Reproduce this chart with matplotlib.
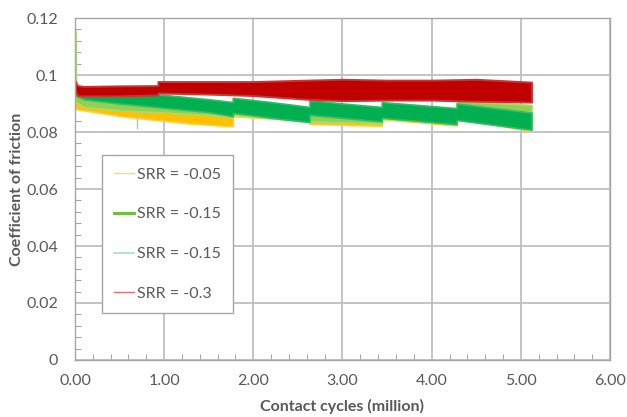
import matplotlib
matplotlib.use('Agg')
import numpy as np
import matplotlib.pyplot as plt
from matplotlib.lines import Line2D
from matplotlib.ticker import MultipleLocator, FormatStrFormatter

# --- data: envelope (low / high) of each noisy trace ---
# SRR = -0.05 (yellow)
x_a = [0.0, 0.02, 0.53, 1.28, 1.77, 1.77, 2.63, 2.63, 3.44, 3.44, 4.28, 4.28, 5.12]
lo_a = [0.0890, 0.0880, 0.0855, 0.0830, 0.0820, 0.0855, 0.0840, 0.0828, 0.0822, 0.0845, 0.0823, 0.0850, 0.0803]
hi_a = [0.0930, 0.0920, 0.0895, 0.0875, 0.0865, 0.0900, 0.0875, 0.0875, 0.0855, 0.0890, 0.0865, 0.0885, 0.0850]

# SRR = -0.15 (light green, with the start-up spike)
x_b = [0.0, 0.004, 0.012, 0.1, 0.5, 1.0, 1.77, 1.77, 2.63, 2.63, 3.44, 3.44, 4.28, 4.28, 5.12]
lo_b = [0.0905, 0.0905, 0.0905, 0.0888, 0.0876, 0.0868, 0.0855, 0.0862, 0.0835, 0.0838, 0.0830, 0.0848, 0.0830, 0.0865, 0.0838]
hi_b = [0.1160, 0.1100, 0.0950, 0.0930, 0.0920, 0.0905, 0.0890, 0.0915, 0.0885, 0.0895, 0.0875, 0.0895, 0.0870, 0.0910, 0.0895]

# SRR = -0.15 (dark green)
x_c = [0.0, 0.1, 0.5, 1.0, 1.5, 1.77, 1.77, 2.2, 2.63, 2.63, 3.0, 3.44, 3.44, 4.28, 4.28, 5.12]
lo_c = [0.0930, 0.0915, 0.0900, 0.0885, 0.0870, 0.0855, 0.0867, 0.0850, 0.0835, 0.0860, 0.0850, 0.0837, 0.0850, 0.0827, 0.0842, 0.0808]
hi_c = [0.0965, 0.0950, 0.0940, 0.0930, 0.0915, 0.0905, 0.0920, 0.0905, 0.0888, 0.0912, 0.0900, 0.0888, 0.0905, 0.0884, 0.0900, 0.0868]
spike_x = [0.70, 0.70]
spike_y = [0.0875, 0.0814]

# SRR = -0.3 (red)
x_d = [0.0, 0.03, 0.1, 0.5, 0.93, 0.93, 1.5, 2.0, 2.6, 3.0, 3.5, 4.0, 4.5, 5.12]
lo_d = [0.0945, 0.0927, 0.0927, 0.0927, 0.0930, 0.0937, 0.0933, 0.0928, 0.0915, 0.0910, 0.0912, 0.0912, 0.0908, 0.0905]
hi_d = [0.0980, 0.0963, 0.0960, 0.0962, 0.0963, 0.0977, 0.0977, 0.0977, 0.0982, 0.0985, 0.0982, 0.0982, 0.0985, 0.0975]

labels = ['SRR = -0.05', 'SRR = -0.15', 'SRR = -0.15', 'SRR = -0.3']

plt.rcParams['font.family'] = ['Lato', 'DejaVu Sans']
grey = '#595959'

fig = plt.figure(figsize=(6.27, 4.17), dpi=100)
ax = fig.add_axes([0.1196, 0.1367, 0.8533, 0.8201])

# bands, with a soft edge so they look less blocky
ax.fill_between(x_a, lo_a, hi_a, color='#FFC000', lw=1.2, ec='#FFD040')
ax.fill_between(x_b, lo_b, hi_b, color='#92D050', lw=1.2, ec='#A8DC70')
ax.fill_between(x_c, lo_c, hi_c, color='#00B050', lw=1.2, ec='#30BC68')
ax.plot(spike_x, spike_y, color='#8FD8B8', lw=1.0)
ax.fill_between(x_d, lo_d, hi_d, color='#C00000', lw=1.4, ec='#CC3333')

ax.set_xlim(0, 6)
ax.set_ylim(0, 0.12)
ax.xaxis.set_major_locator(MultipleLocator(1))
ax.xaxis.set_minor_locator(MultipleLocator(0.2))
ax.yaxis.set_minor_locator(MultipleLocator(0.004))
ax.xaxis.set_major_formatter(FormatStrFormatter('%.2f'))
ax.set_yticks([0, 0.02, 0.04, 0.06, 0.08, 0.1, 0.12])
ax.set_yticklabels(['0', '0.02', '0.04', '0.06', '0.08', '0.1', '0.12'])

ax.grid(True, which='major', color='#BFBFBF', lw=1.3)
ax.set_axisbelow(True)
for s in ax.spines.values():
    s.set_color('#A6A6A6')
    s.set_linewidth(1.0)
ax.tick_params(which='major', length=0, labelsize=11.5, labelcolor=grey)
ax.tick_params(axis='y', which='major', pad=12)
ax.tick_params(axis='x', which='major', pad=10)
ax.tick_params(which='minor', direction='in', length=4, color='#A6A6A6', width=0.8)

ax.set_xlabel('Contact cycles (million)', fontsize=11.5, fontweight='bold', color=grey, labelpad=8)
ax.set_ylabel('Coefficient of friction', fontsize=11.5, fontweight='bold', color=grey, labelpad=2)

handles = [Line2D([], [], color='#FFD966', lw=1.0),
           Line2D([], [], color='#70C040', lw=2.2),
           Line2D([], [], color='#A8DCC8', lw=1.2),
           Line2D([], [], color='#E07070', lw=1.0)]
leg = ax.legend(handles, labels, loc='upper left', bbox_to_anchor=(0.05, 0.598),
                fontsize=11.5, labelspacing=1.6, handlelength=1.3, handletextpad=0.15,
                borderpad=0.75, borderaxespad=0, fancybox=False, framealpha=1,
                edgecolor='#A6A6A6')
leg.get_frame().set_linewidth(1.0)
for t in leg.get_texts():
    t.set_color(grey)

fig.savefig('out.png', dpi=100)
